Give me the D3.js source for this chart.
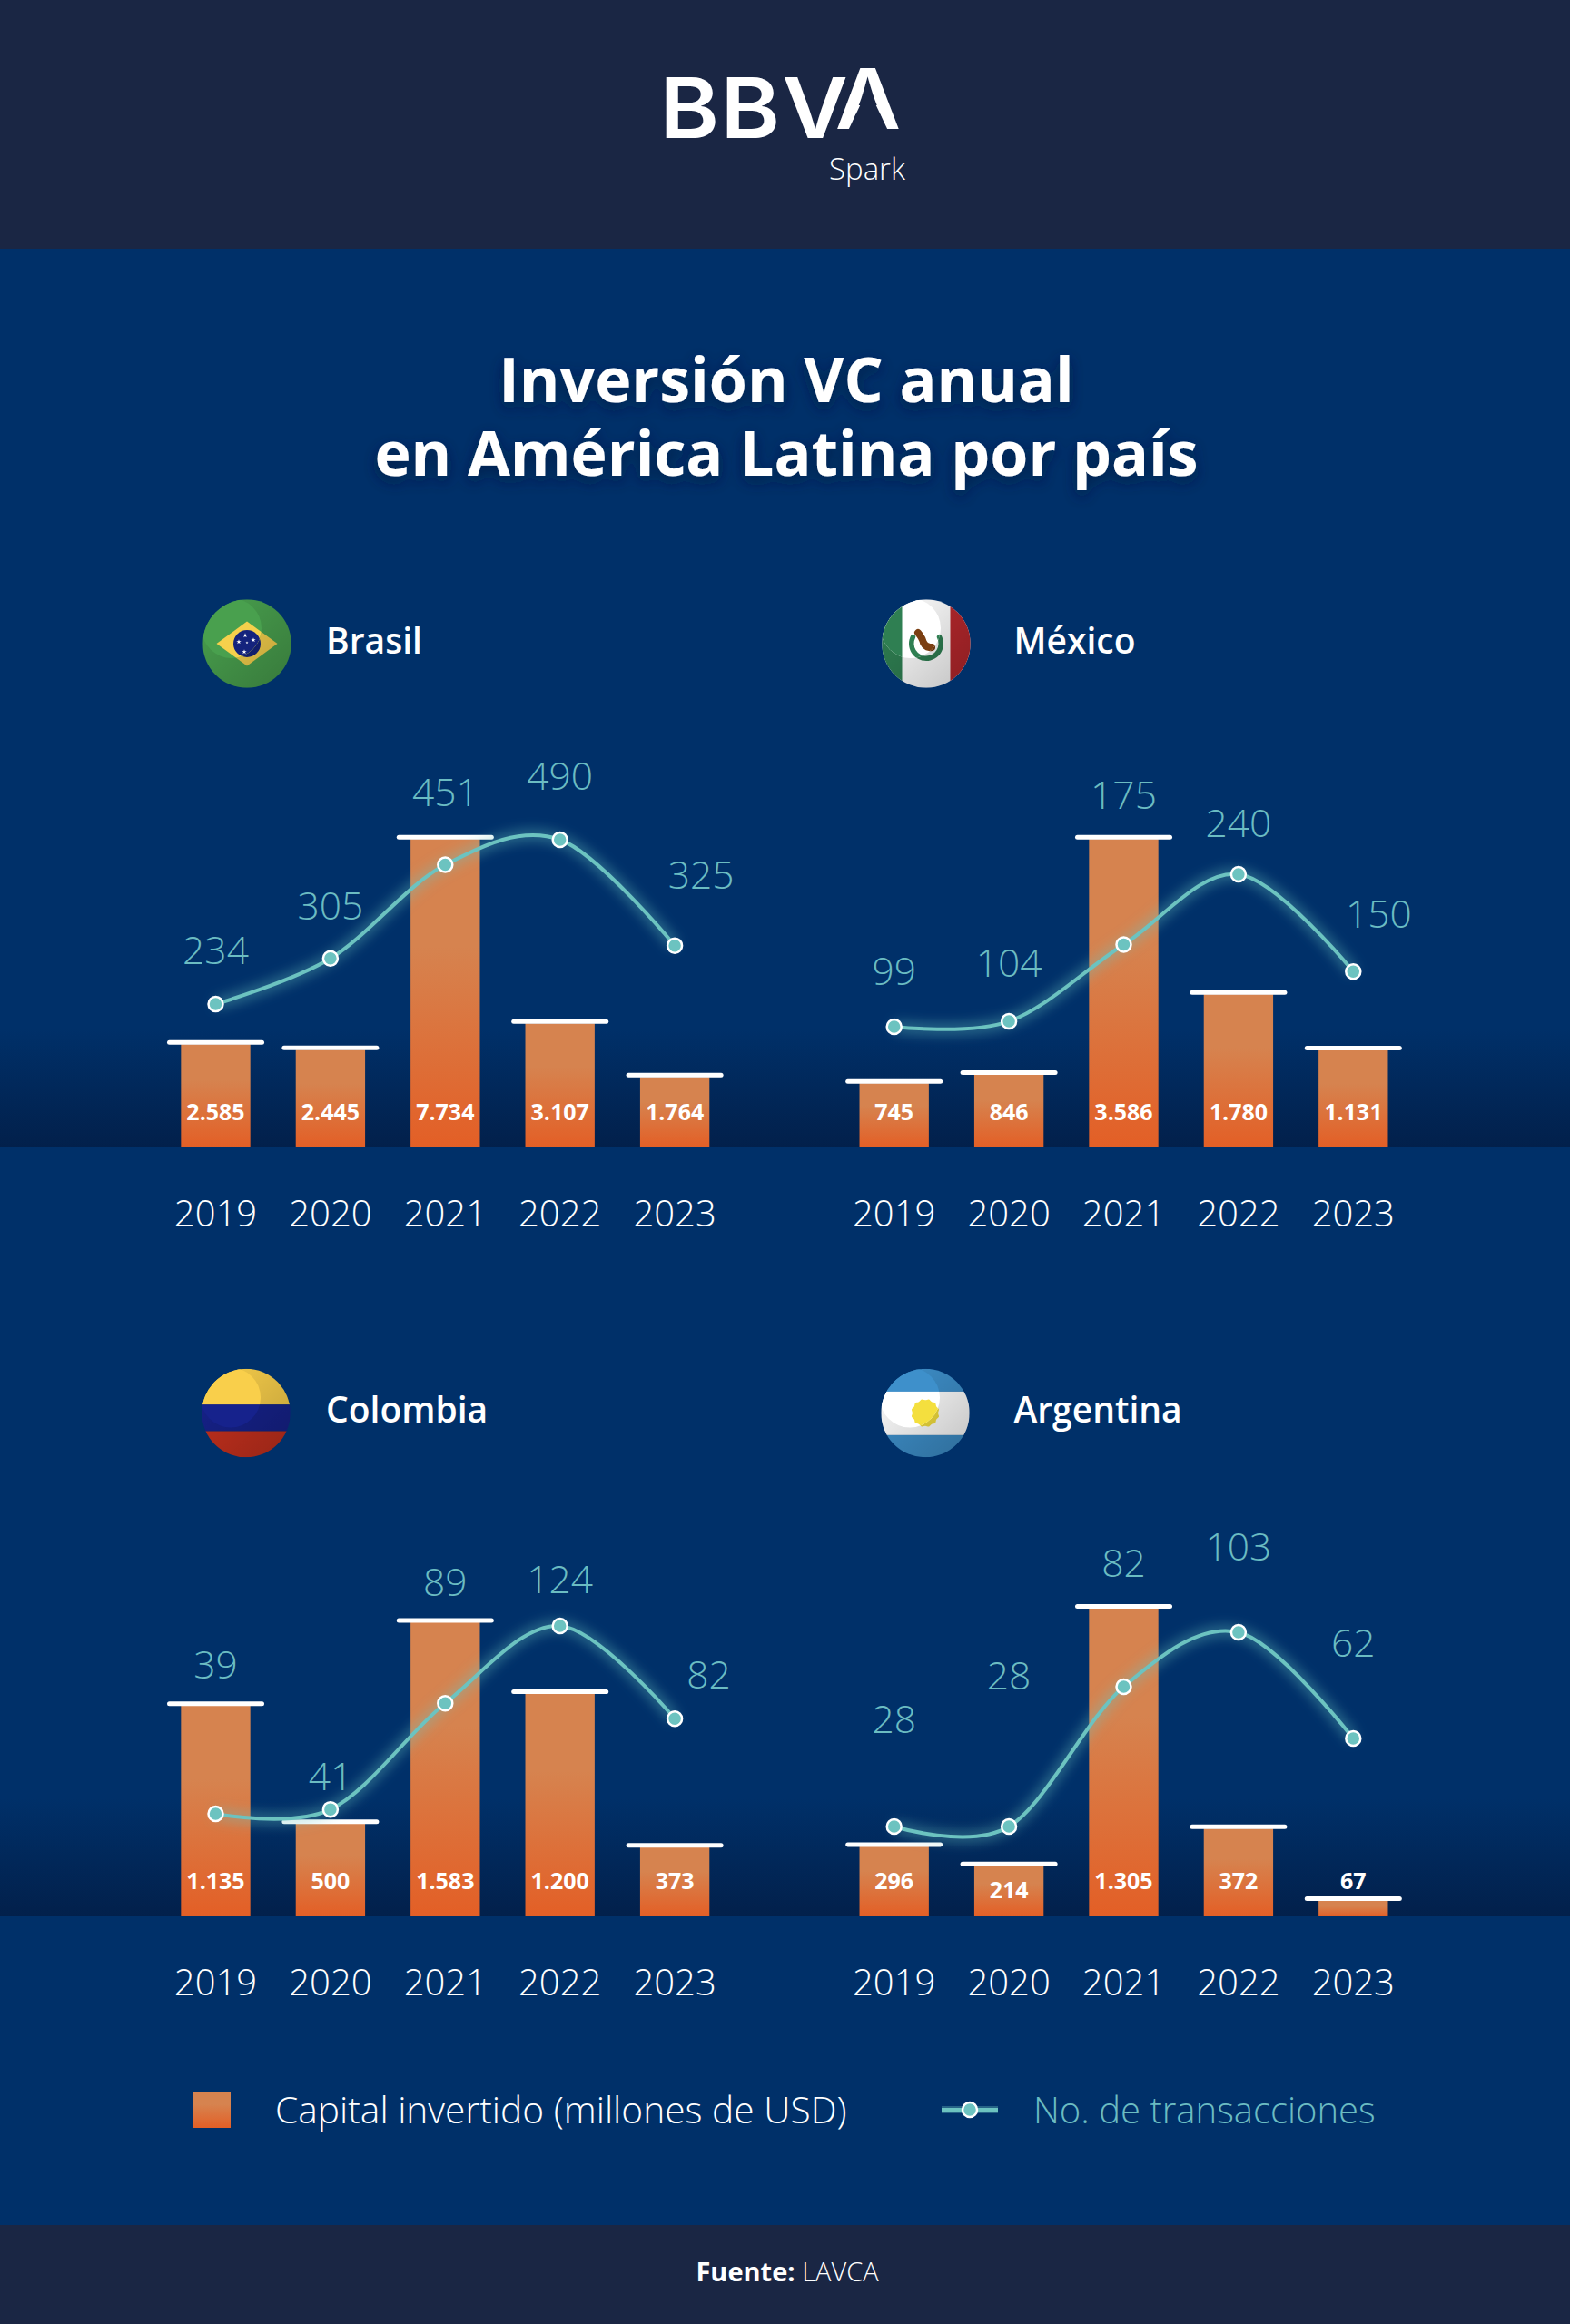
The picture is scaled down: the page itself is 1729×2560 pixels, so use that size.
<!DOCTYPE html>
<html>
<head>
<meta charset="utf-8">
<script src="https://cdn.jsdelivr.net/npm/d3@7"></script>
<style>
  html, body { margin: 0; padding: 0; background: #003069; }
  svg { display: block; }
  text { font-family: "Open Sans", sans-serif; }
</style>
</head>
<body>
<div id="chart"></div>
<script>
"use strict";

// chart data
const years = ["2019", "2020", "2021", "2022", "2023"];
const countries = ["Brasil", "México", "Colombia", "Argentina"];

const capitalBrasil = [2585, 2445, 7734, 3107, 1764];
const capitalMexico = [745, 846, 3586, 1780, 1131];
const capitalColombia = [1135, 500, 1583, 1200, 373];
const capitalArgentina = [296, 214, 1305, 372, 67];

const dealsBrasil = [234, 305, 451, 490, 325];
const dealsMexico = [99, 104, 175, 240, 150];
const dealsColombia = [39, 41, 89, 124, 82];
const dealsArgentina = [28, 28, 82, 103, 62];

const capitalLegend = "Capital invertido (millones de USD)";
const dealsLegend = "No. de transacciones";

// layout
const W = 1729, H = 2560;
const colors = {
  dark: "#1a2644", body: "#003069", teal: "#6cc3c0", tealText: "#6bbcc2",
  barTop: "#d6834f", barBottom: "#e35f26", baseShade: "#02204b"
};

// one entry per panel, same order as countries
// lift = how far each transactions label sits above its point, shift = sideways nudge of the label
const panels = [
  { capital: capitalBrasil, deals: dealsBrasil, left: 174.3, base: 1263.7, barMax: 339.5,
    dealsDomain: [234, 490], dealsRange: [1106, 925],
    lift: [58.5, 56.6, 78.7, 69, 76.7], shift: [0, 0, 0, 0, 29],
    flag: drawBrazil, fx: 272, fy: 709, nameX: 359 },
  { capital: capitalMexico, deals: dealsMexico, left: 921.5, base: 1263.7, barMax: 339.5,
    dealsDomain: [99, 240], dealsRange: [1131, 963],
    lift: [60, 63.5, 163, 55.5, 62], shift: [0, 0, 0, 0, 28],
    flag: drawMexico, fx: 1020, fy: 709, nameX: 1116.5 },
  { capital: capitalColombia, deals: dealsColombia, left: 174.3, base: 2111, barMax: 324,
    dealsDomain: [39, 124], dealsRange: [1998, 1791],
    lift: [163, 35, 132, 50, 47], shift: [0, 0, 0, 0, 37.5],
    flag: drawColombia, fx: 271, fy: 1556.5, nameX: 359 },
  { capital: capitalArgentina, deals: dealsArgentina, left: 921.5, base: 2111, barMax: 339.5,
    dealsDomain: [28, 103], dealsRange: [2012, 1798],
    lift: [117, 165, 135, 93, 104], shift: [0, 0, 0, 0, 0],
    flag: drawArgentina, fx: 1019, fy: 1556.5, nameX: 1116.5 }
];
const plotWidth = 632, R = 48.7;

const svg = d3.select("#chart").append("svg")
  .attr("width", W).attr("height", H).attr("viewBox", `0 0 ${W} ${H}`);
const defs = svg.append("defs");

const barGrad = defs.append("linearGradient").attr("id", "barGrad")
  .attr("x1", 0).attr("y1", 0).attr("x2", 0).attr("y2", 1);
barGrad.append("stop").attr("offset", "0%").attr("stop-color", colors.barTop);
barGrad.append("stop").attr("offset", "35%").attr("stop-color", colors.barTop);
barGrad.append("stop").attr("offset", "100%").attr("stop-color", colors.barBottom);

const shadeGrad = defs.append("linearGradient").attr("id", "shadeGrad")
  .attr("x1", 0).attr("y1", 0).attr("x2", 0).attr("y2", 1);
shadeGrad.append("stop").attr("offset", "0%").attr("stop-color", colors.baseShade).attr("stop-opacity", 0);
shadeGrad.append("stop").attr("offset", "100%").attr("stop-color", colors.baseShade).attr("stop-opacity", 1);

const flagShade = defs.append("linearGradient").attr("id", "flagShade")
  .attr("x1", 0).attr("y1", 0).attr("x2", 1).attr("y2", 1);
flagShade.append("stop").attr("offset", "25%").attr("stop-color", "#000").attr("stop-opacity", 0.06);
flagShade.append("stop").attr("offset", "100%").attr("stop-color", "#000").attr("stop-opacity", 0.24);

const glow = defs.append("filter").attr("id", "glow")
  .attr("x", "-20%").attr("y", "-40%").attr("width", "140%").attr("height", "180%");
glow.append("feGaussianBlur").attr("stdDeviation", 7);

const titleShadow = defs.append("filter").attr("id", "titleShadow")
  .attr("x", "-10%").attr("y", "-30%").attr("width", "120%").attr("height", "170%");
titleShadow.append("feDropShadow").attr("dx", 0).attr("dy", 6).attr("stdDeviation", 8)
  .attr("flood-color", "#001a40").attr("flood-opacity", 0.75);

// backgrounds
svg.append("rect").attr("width", W).attr("height", H).attr("fill", colors.body);
svg.append("rect").attr("width", W).attr("height", 274).attr("fill", colors.dark);
svg.append("rect").attr("y", 2451).attr("width", W).attr("height", H - 2451).attr("fill", colors.dark);

// dark band that fades in above each baseline, one per row
svg.selectAll(".band").data([1263.7, 2111]).join("rect").attr("class", "band")
  .attr("x", 0).attr("width", W).attr("y", d => d - 130).attr("height", 130)
  .attr("fill", "url(#shadeGrad)");

drawLogo();

// title
const title = svg.append("text").attr("text-anchor", "middle")
  .attr("fill", "#fff").attr("font-size", 68).attr("font-weight", 700).attr("filter", "url(#titleShadow)");
title.append("tspan").attr("x", 866).attr("y", 443).text("Inversión VC anual");
title.append("tspan").attr("x", 866).attr("y", 524).text("en América Latina por país");

panels.forEach((p, i) => drawPanel(p, i));
drawLegend();

// footer
const source = svg.append("text").attr("x", 867).attr("y", 2513).attr("text-anchor", "middle")
  .attr("fill", "#fff").attr("font-size", 29);
source.append("tspan").attr("font-weight", 700).text("Fuente: ");
source.append("tspan").attr("font-weight", 300).text("LAVCA");

function drawPanel(p, i) {
  const g = svg.append("g");

  const x = d3.scaleBand().domain(years)
    .range([p.left, p.left + plotWidth]).paddingInner(0.396).paddingOuter(0.198);
  const y = d3.scaleLinear().domain([0, d3.max(p.capital)]).range([p.base, p.base - p.barMax]);
  const yDeals = d3.scaleLinear().domain(p.dealsDomain).range(p.dealsRange);
  const cx = d => x(d) + x.bandwidth() / 2;

  // bars
  g.selectAll(".bar").data(years).join("rect").attr("class", "bar")
    .attr("x", d => x(d)).attr("width", x.bandwidth())
    .attr("y", (d, j) => y(p.capital[j])).attr("height", (d, j) => p.base - y(p.capital[j]))
    .attr("fill", "url(#barGrad)");

  // white caps on top of the bars
  g.selectAll(".cap").data(years).join("rect").attr("class", "cap")
    .attr("x", d => cx(d) - 53.5).attr("width", 107)
    .attr("y", (d, j) => y(p.capital[j]) - 4.5).attr("height", 5).attr("rx", 2.5)
    .attr("fill", "#fff");

  // capital values: inside the bar, or above the cap when the bar is too short
  g.selectAll(".value").data(years).join("text").attr("class", "value")
    .attr("x", d => cx(d))
    .attr("y", (d, j) => {
      const top = y(p.capital[j]);
      if (p.base - top < 35) return top - 13;
      return Math.max(p.base - 30, top + 36);
    })
    .attr("text-anchor", "middle").attr("fill", "#fff")
    .attr("font-size", 25).attr("font-weight", 700)
    .text((d, j) => d3.format(",")(p.capital[j]).replace(/,/g, "."));

  // transactions line
  const line = d3.line().curve(d3.curveCardinal.tension(0)).x(d => cx(d)).y((d, j) => yDeals(p.deals[j]));
  g.append("path").datum(years).attr("d", line).attr("fill", "none")
    .attr("stroke", colors.teal).attr("stroke-width", 10).attr("stroke-opacity", 0.5).attr("filter", "url(#glow)");
  g.append("path").datum(years).attr("d", line).attr("fill", "none")
    .attr("stroke", colors.teal).attr("stroke-width", 4);
  g.selectAll(".dot").data(years).join("circle").attr("class", "dot")
    .attr("cx", d => cx(d)).attr("cy", (d, j) => yDeals(p.deals[j])).attr("r", 8)
    .attr("fill", colors.teal).attr("stroke", "#fff").attr("stroke-width", 2.5);

  g.selectAll(".deal").data(years).join("text").attr("class", "deal")
    .attr("x", (d, j) => cx(d) + p.shift[j]).attr("y", (d, j) => yDeals(p.deals[j]) - p.lift[j] + 14)
    .attr("text-anchor", "middle").attr("fill", colors.tealText)
    .attr("font-size", 42.5).attr("font-weight", 300)
    .text((d, j) => p.deals[j]);

  // years
  g.selectAll(".year").data(years).join("text").attr("class", "year")
    .attr("x", d => cx(d)).attr("y", p.base + 87)
    .attr("text-anchor", "middle").attr("fill", "#fff")
    .attr("font-size", 40).attr("font-weight", 300)
    .text(d => d);

  // country name and flag
  drawFlag(p, i);
  g.append("text").attr("x", p.nameX).attr("y", p.fy + 10.5)
    .attr("fill", "#fff").attr("font-size", 39).attr("font-weight", 600)
    .text(countries[i]);
}

function drawFlag(p, i) {
  defs.append("clipPath").attr("id", "outer" + i).append("circle").attr("r", R);
  defs.append("clipPath").attr("id", "inner" + i).append("circle")
    .attr("cx", -17).attr("cy", -17).attr("r", 33);

  const fg = svg.append("g").attr("transform", `translate(${p.fx},${p.fy})`)
    .append("g").attr("clip-path", `url(#outer${i})`);

  // full flag with a shadow over it, then the lit part drawn again on top
  p.flag(fg);
  fg.append("rect").attr("x", -R).attr("y", -R).attr("width", 2 * R).attr("height", 2 * R)
    .attr("fill", "url(#flagShade)");
  const lit = fg.append("g").attr("clip-path", `url(#inner${i})`);
  p.flag(lit);
}

function stripes(g, bands) {
  bands.forEach(b => g.append("rect")
    .attr("x", -R).attr("width", 2 * R).attr("y", b[0]).attr("height", b[1] - b[0]).attr("fill", b[2]));
}

function drawBrazil(g) {
  stripes(g, [[-R, R, "#49a04e"]]);
  g.append("path").attr("d", "M-33.5,0L0,-24.5L33.5,0L0,24.5Z").attr("fill", "#f5d04c");
  g.append("circle").attr("r", 15).attr("fill", "#14237d");
  [[-2, -9], [7, -4], [-9, -2], [-3, 9], [0, -1]].forEach((s, k) => {
    g.append("path").attr("transform", `translate(${s[0]},${s[1]})`)
      .attr("d", d3.symbol(d3.symbolStar, k === 4 ? 3 : 9)()).attr("fill", "#fff");
  });
}

function drawMexico(g) {
  stripes(g, [[-R, R, "#ffffff"]]);
  g.append("rect").attr("x", -R).attr("y", -R).attr("width", R - 26.5).attr("height", 2 * R).attr("fill", "#2f7f52");
  g.append("rect").attr("x", 26.5).attr("y", -R).attr("width", R - 26.5).attr("height", 2 * R).attr("fill", "#b9282d");
  const ring = d3.arc().innerRadius(13.5).outerRadius(19).cornerRadius(2.5)
    .startAngle(Math.PI * 0.3).endAngle(Math.PI * 1.7);
  g.append("path").attr("d", ring()).attr("fill", "#2f7f52");
  g.append("path").attr("d", "M-9,-12Q-4,-6 -3,-1Q0,5 6,4")
    .attr("fill", "none").attr("stroke", "#7b3f12").attr("stroke-width", 8).attr("stroke-linecap", "round");
}

function drawColombia(g) {
  stripes(g, [[-R, -9.2, "#f9cf4b"], [-9.2, 20, "#16228c"], [20, R, "#c7311e"]]);
}

function drawArgentina(g) {
  stripes(g, [[-R, -23.6, "#3e90cb"], [-23.6, 24.4, "#ffffff"], [24.4, R, "#3e90cb"]]);
  // scalloped sun
  const sun = d3.lineRadial().curve(d3.curveBasisClosed).angle((d, k) => k * Math.PI / 12)
    .radius((d, k) => (k % 2 ? 17 : 13));
  g.append("path").attr("d", sun(d3.range(24))).attr("fill", "#f4df3e");
}

function drawLogo() {
  const logo = svg.append("text").attr("transform", "translate(733,0) scale(1.08,1)")
    .attr("fill", "#fff").attr("font-size", 92).attr("font-weight", 600)
    .style("font-family", "Inter, sans-serif");
  logo.append("tspan").attr("x", -6).attr("y", 152).text("B");
  logo.append("tspan").attr("x", 56).attr("y", 152).text("B");
  logo.append("tspan").attr("x", 119).attr("y", 152).text("V");
  logo.append("tspan").attr("x", 173).attr("y", 141.7).text("A");
  // the A of the logo has no crossbar
  svg.append("path").attr("d", "M951,108L961,108L979,146L933,146Z").attr("fill", colors.dark);

  svg.append("text").attr("x", 913).attr("y", 198).attr("fill", "#fff")
    .attr("font-size", 33).attr("font-weight", 300).text("Spark");
}

function drawLegend() {
  svg.append("rect").attr("x", 213).attr("y", 2304).attr("width", 41).attr("height", 40).attr("fill", "url(#barGrad)");
  svg.append("text").attr("x", 303).attr("y", 2339).attr("fill", "#fff")
    .attr("font-size", 40.7).attr("font-weight", 300).text(capitalLegend);

  svg.append("line").attr("x1", 1037).attr("x2", 1099).attr("y1", 2324).attr("y2", 2324)
    .attr("stroke", colors.teal).attr("stroke-width", 8).attr("stroke-opacity", 0.35);
  svg.append("line").attr("x1", 1037).attr("x2", 1099).attr("y1", 2324).attr("y2", 2324)
    .attr("stroke", colors.teal).attr("stroke-width", 4);
  svg.append("circle").attr("cx", 1068).attr("cy", 2324).attr("r", 8)
    .attr("fill", colors.teal).attr("stroke", "#fff").attr("stroke-width", 2.5);
  svg.append("text").attr("x", 1138).attr("y", 2339).attr("fill", colors.tealText)
    .attr("font-size", 40).attr("font-weight", 300).text(dealsLegend);
}
</script>
</body>
</html>
